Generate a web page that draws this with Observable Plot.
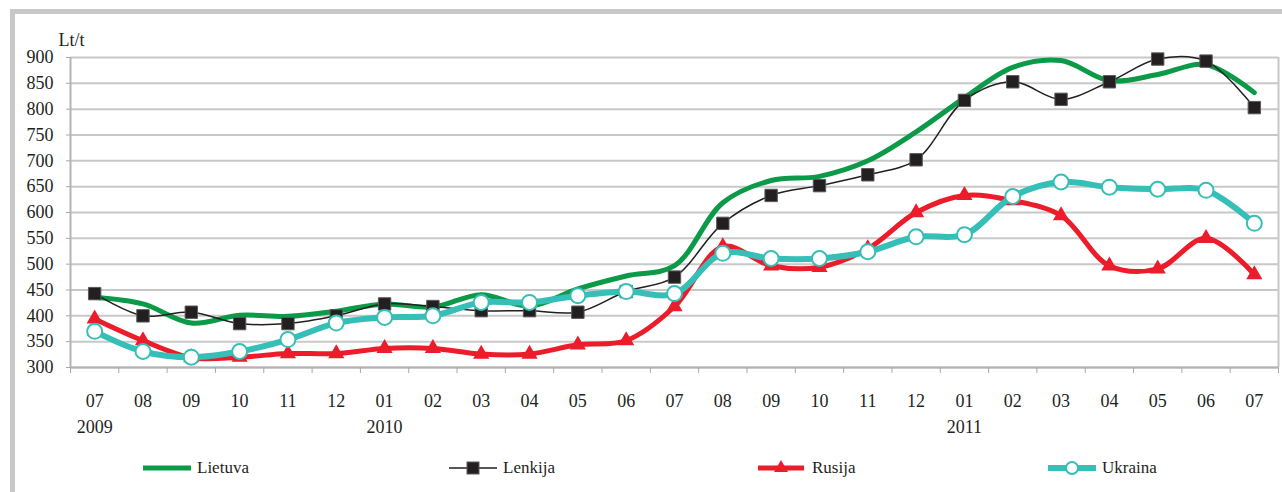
<!DOCTYPE html>
<html><head><meta charset="utf-8">
<script src="https://cdn.jsdelivr.net/npm/d3@7"></script>
<script src="https://cdn.jsdelivr.net/npm/@observablehq/plot@0.6"></script>
<style>
body{margin:0;background:#fff;font-family:"Liberation Serif","Times New Roman",serif;color:#231f20}
#frame{position:absolute;left:10px;top:9px;width:1272px;height:483px;border-left:5px solid #c8c8c8;border-top:5px solid #c8c8c8;box-sizing:border-box}
#chart{position:absolute;left:0;top:0}
#legend{position:absolute;left:0;top:456px;width:1282px;height:24px}
.item{position:absolute;top:0;display:flex;align-items:center;font-size:17px;height:24px}
.item svg{margin-right:6px}
</style></head><body>
<div id="frame"></div><div id="chart"></div><div id="legend"></div>
<script>
const months = ["07","08","09","10","11","12","01","02","03","04","05","06","07","08","09","10","11","12","01","02","03","04","05","06","07"];
const years  = ["2009","","","","","","2010","","","","","","","","","","","","2011","","","","","",""];
const yTicks = [300,350,400,450,500,550,600,650,700,750,800,850,900];

const names = ["Lietuva","Lenkija","Rusija","Ukraina"];
const lietuva = [436,423,386,401,399,409,423,417,441,419,452,477,497,619,662,670,700,756,822,881,894,855,867,886,832];
const lenkija = [443,400,407,385,385,400,423,418,410,410,407,447,475,579,633,652,673,702,817,853,819,853,897,893,803];
const rusija  = [394,352,319,320,327,327,337,337,326,326,344,352,418,534,497,494,530,600,633,623,594,497,491,550,480];
const ukraina = [370,331,320,331,354,386,397,400,426,426,439,447,443,521,511,511,524,553,557,631,659,649,645,643,579];

const green = "#0b9a48", black = "#231f20", red = "#ec1c2a", teal = "#35bfb7";
const rows = arr => arr.map((v,i)=>({i, v}));

const chart = Plot.plot({
  width:1282, height:440,
  marginLeft:70, marginRight:4, marginTop:57, marginBottom:73,
  x:{domain:[-0.5,24.5], axis:null},
  y:{domain:[300,900], axis:null},
  style:{fontFamily:'"Liberation Serif","Times New Roman",serif', fontSize:"18px", color:"#231f20", background:"transparent", overflow:"visible"},
  marks:[
    Plot.gridY(yTicks, {stroke:"#c8c8c8", strokeOpacity:1, strokeWidth:2}),
    Plot.axisY(yTicks, {tickSize:4, tickPadding:13, stroke:"#a8a8a8", fontSize:18, label:null}),
    Plot.ruleX([-0.5], {stroke:"#b4b4b4", strokeWidth:2}),
    Plot.ruleX([24.5], {stroke:"#c8c8c8", strokeWidth:2}),
    Plot.ruleY([300], {stroke:"#b4b4b4", strokeWidth:2}),
    Plot.axisX(d3.range(-0.5,25,1), {tickSize:6, tickFormat:()=>"", stroke:"#a8a8a8", label:null}),
    Plot.text(d3.range(months.length), {x:d=>d, y:300, text:i=>months[i] + (years[i] ? "\n"+years[i] : ""), lineAnchor:"top", dy:22, lineHeight:1.4, fontSize:18}),
    Plot.text(["Lt/t"], {frameAnchor:"top-left", text:d=>d, dx:-12, dy:-17, textAnchor:"start", lineAnchor:"middle", fontSize:18}),
    Plot.line(rows(lietuva), {x:"i", y:"v", stroke:green, strokeWidth:5, curve:"catmull-rom"}),
    Plot.line(rows(lenkija), {x:"i", y:"v", stroke:black, strokeWidth:1.5, curve:"catmull-rom"}),
    Plot.dot(rows(lenkija), {x:"i", y:"v", symbol:"square", r:7, fill:black, stroke:"#5a5a5a", strokeWidth:1}),
    Plot.line(rows(rusija), {x:"i", y:"v", stroke:red, strokeWidth:5, curve:"catmull-rom"}),
    Plot.dot(rows(rusija), {x:"i", y:"v", symbol:"triangle", r:6, fill:red}),
    Plot.line(rows(ukraina), {x:"i", y:"v", stroke:teal, strokeWidth:6, curve:"catmull-rom"}),
    Plot.dot(rows(ukraina), {x:"i", y:"v", r:7.5, fill:"white", stroke:teal, strokeWidth:2})
  ]
});
document.getElementById("chart").appendChild(chart);

// legend
const legendLeft = [143, 449, 758, 1048];
const legendSym = [
  `<line x1="0" y1="8" x2="48" y2="8" stroke="${green}" stroke-width="5"/>`,
  `<line x1="0" y1="8" x2="48" y2="8" stroke="${black}" stroke-width="1.5"/><rect x="18" y="2" width="12" height="12" fill="${black}" stroke="#5a5a5a"/>`,
  `<line x1="0" y1="8" x2="46" y2="8" stroke="${red}" stroke-width="5"/><path d="M23,0 L30,12 L16,12 Z" fill="${red}"/>`,
  `<line x1="0" y1="8" x2="48" y2="8" stroke="${teal}" stroke-width="6"/><circle cx="24" cy="8" r="6" fill="white" stroke="${teal}" stroke-width="2"/>`
];
const leg = document.getElementById("legend");
names.forEach((n,k)=>{
  const d = document.createElement("div");
  d.className = "item";
  d.style.left = legendLeft[k] + "px";
  d.innerHTML = `<svg width="48" height="16">${legendSym[k]}</svg><span>${n}</span>`;
  leg.appendChild(d);
});
</script></body></html>
